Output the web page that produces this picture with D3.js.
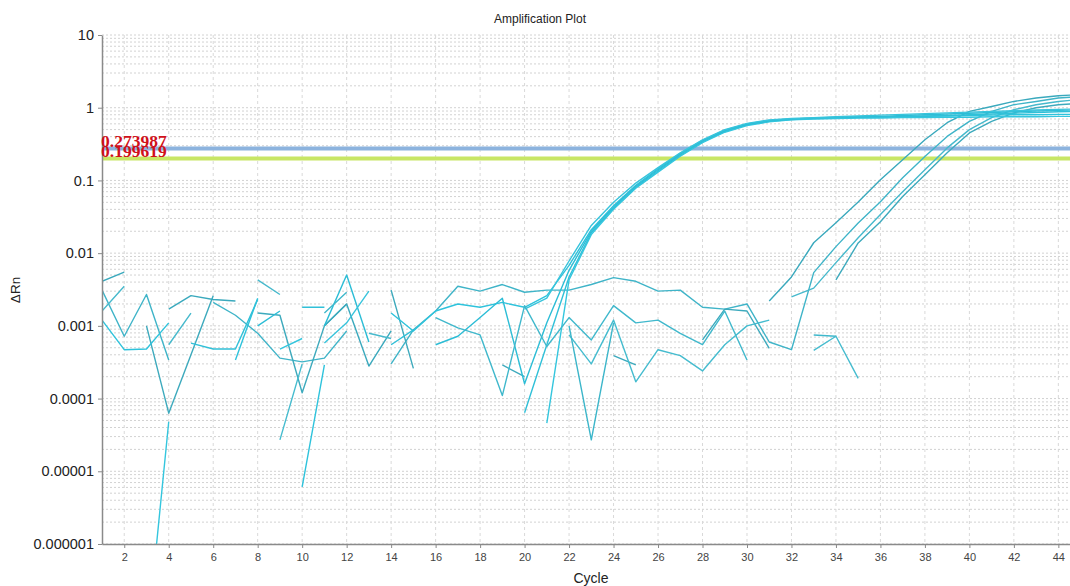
<!DOCTYPE html>
<html><head><meta charset="utf-8">
<script src="https://cdn.jsdelivr.net/npm/d3@7"></script>
<style>body{margin:0;background:#fff;overflow:hidden} svg{display:block}</style>
</head><body><svg id="c" width="1070" height="586"></svg>
<script>
// ---- data ----
const cycles = d3.range(1, 46);
const xTicks = d3.range(2, 46, 2);
const yTicks = [1e-6, 1e-5, 1e-4, 1e-3, 1e-2, 1e-1, 1, 10];
const yTickLabels = ["0.000001", "0.00001", "0.0001", "0.001", "0.01", "0.1", "1", "10"];
const thresholdValues = [0.273987, 0.199619];
const thresholdLabels = ["0.273987", "0.199619"];
const n = null;
// ΔRn per well (null = not plotted / non-positive)
const w01 = [0.0031,0.00072,0.0027,0.00034,n, 0.0021,0.0014,0.00079,0.00036,0.00032, 0.00036,0.00085,n,0.0003,0.00088, 0.0016,0.0035,0.003,0.0037,0.0029, 0.0031,0.0031,0.0037,0.0046,0.0041, 0.003,0.0031,0.0018,0.0017,0.002, 0.0006,0.00047,0.0054,0.0123,0.026, 0.051,0.109,0.214,0.403,0.65, 0.89,1.1,1.22,1.36,1.42];
const w02 = [0.0041,0.0055,n,0.0017,0.0026, 0.0023,0.0022,n,n,n, 0.001,0.002,0.00028,0.00085,n, n,n,n,n,n, n,n,n,0.00039,0.00029, n,n,n,n,n, 0.0022,0.0047,0.0139,0.0262,0.0505, 0.102,0.193,0.363,0.622,0.89, 1.04,1.22,1.36,1.46,1.52];
const w03 = [0.0016,0.0035,n,0.00055,0.0015, n,n,0.0043,0.0027,n, n,n,0.00079,0.00067,n, n,n,n,n,n, n,n,n,n,n, n,n,n,n,n, n,0.0025,0.0033,0.0074,0.0163, 0.034,0.07,0.14,0.28,0.5, 0.73,0.94,1.1,1.22,1.3];
const w04 = [n,n,0.001,0.000063,0.0004, 0.0026,n,0.0015,0.0014,0.00012, 0.001,0.002,n,0.0031,0.00026, n,n,n,0.00029,0.0002, n,n,n,n,n, n,n,0.00064,0.0017,0.0016, 0.00049,n,n,0.0043,0.0138, 0.027,0.06,0.12,0.24,0.45, 0.65,0.85,1.0,1.1,1.15];
const w05 = [0.0012,0.00047,0.00048,0.0011,n, n,0.00034,0.0024,n,0.0000061, 0.00029,n,n,0.0015,0.00085, 0.0016,0.002,0.0018,0.0021,0.0018, 0.0026,0.0068,0.021,0.045,0.086, 0.145,0.235,0.355,0.49,0.6, 0.67,0.7,0.72,0.73,0.74, 0.74,0.75,0.76,0.77,0.78, 0.79,0.8,0.8,0.81,0.81];
const w06 = [n,n,n,n,0.00058, 0.00048,0.00048,0.0023,n,0.0018, 0.0018,n,n,0.00055,0.00088, n,n,n,n,0.000064, 0.00055,0.0047,0.019,0.041,0.08, 0.135,0.22,0.34,0.47,0.58, 0.65,0.69,0.71,0.72,0.73, 0.74,0.75,0.77,0.78,0.8, 0.82,0.84,0.86,0.88,0.89];
const w07 = [n,n,4e-8,0.000048,n, n,n,n,0.00048,0.00067, n,n,n,n,n, n,n,n,n,n, 0.000046,0.0043,0.018,0.04,0.078, 0.13,0.215,0.33,0.46,0.57, 0.64,0.68,0.7,0.71,0.72, 0.72,0.73,0.73,0.74,0.74, 0.75,0.75,0.75,0.76,0.76];
const w08 = [n,n,n,n,n, n,n,0.001,0.0016,n, 0.001,0.005,0.0006,n,n, 0.00055,0.00072,0.0013,0.0024,0.00016, 0.0011,0.0058,0.02,0.043,0.083, 0.14,0.228,0.35,0.48,0.59, 0.66,0.7,0.72,0.74,0.75, 0.76,0.78,0.8,0.82,0.84, 0.86,0.88,0.9,0.92,0.93];
const w09 = [n,n,n,n,n, n,n,n,n,n, 0.00058,0.0011,0.003,n,n, n,n,n,n,0.0017, 0.0024,0.0078,0.024,0.05,0.092, 0.15,0.24,0.36,0.5,0.61, 0.68,0.71,0.73,0.75,0.77, 0.79,0.81,0.83,0.85,0.87, 0.89,0.91,0.93,0.95,0.96];
const w10 = [n,n,n,n,n, n,n,n,n,n, 0.0015,0.0029,n,n,n, 0.0013,0.00094,0.00075,0.00011,0.0019, 0.00052,0.0013,0.00064,0.0019,0.0011, 0.0012,0.00079,0.00055,0.0016,0.00034, n,n,0.00075,0.00072,n, n,n,n,n,n, n,n,n,n,n];
const w11 = [n,n,n,n,n, n,n,n,0.000027,0.0003, n,n,n,n,n, n,n,n,n,n, n,0.00075,0.0003,0.0012,0.00017, 0.00047,0.00039,0.00024,0.00055,0.001, 0.0012,n,0.00046,0.00072,0.00019, n,n,n,n,n, n,n,n,n,n];
const w12 = [n,n,n,n,n, n,n,n,n,n, n,n,n,n,n, n,n,n,n,n, n,0.001,0.000027,0.0011,n, n,n,n,n,n, n,n,n,n,n, n,n,n,n,n, n,n,n,n,n];

const wells = [w01, w02, w03, w04, w05, w06, w07, w08, w09, w10, w11, w12];
const wellColors = ["#3fb4c8","#3aa9bd","#46b9cc","#3daabd","#2ec3dc","#30c0d8","#34c6de","#2cbdd6","#38c4dc","#3fb8cc","#45bccf","#3cb6ca"];

(function draw() {
  const svg = d3.select("#c");
  const pL = 102, pR = 1080.6, pT = 35, pB = 544;
  const x = d3.scaleLinear().domain([1, 45]).range([pL, pR]);
  const y = d3.scaleLog().domain([1e-6, 10]).range([pB, pT]);
  const font = "'Liberation Sans', Arial, sans-serif";

  // grid
  const gridG = svg.append("g");
  const minorVals = [];
  for (let e = -6; e <= 0; e++) for (let m = 1; m <= 9; m++) minorVals.push(m * Math.pow(10, e));
  minorVals.push(10);
  gridG.selectAll("line.h").data(minorVals).join("line")
    .attr("x1", pL).attr("x2", 1070)
    .attr("y1", d => y(d)).attr("y2", d => y(d))
    .attr("stroke", "#d2d2d2").attr("stroke-width", 1).attr("stroke-dasharray", "2,2");
  gridG.selectAll("line.v").data(xTicks).join("line")
    .attr("x1", d => x(d)).attr("x2", d => x(d))
    .attr("y1", pT).attr("y2", pB)
    .attr("stroke", "#d9d9d9").attr("stroke-width", 1).attr("stroke-dasharray", "3,3");

  // clip
  svg.append("clipPath").attr("id", "clip").append("rect")
    .attr("x", pL).attr("y", pT).attr("width", pR - pL).attr("height", pB - pT);

  // thresholds
  const thrColors = ["#8cb3de", "#c8e665"];
  svg.append("g").selectAll("line").data(thresholdValues).join("line")
    .attr("x1", pL).attr("x2", 1070)
    .attr("y1", d => y(d)).attr("y2", d => y(d))
    .attr("stroke", (d, i) => thrColors[i]).attr("stroke-width", 4);

  // curves
  const line = d3.line()
    .defined(d => d != null)
    .x((d, i) => x(cycles[i]))
    .y(d => y(d));
  svg.append("g").attr("clip-path", "url(#clip)")
    .selectAll("path").data(wells).join("path")
    .attr("d", line)
    .attr("fill", "none")
    .attr("stroke", (d, i) => wellColors[i])
    .attr("stroke-width", 1.4)
    .attr("stroke-linejoin", "round");

  // axes
  const yAxis = d3.axisLeft(y).tickValues(yTicks).tickFormat((d, i) => yTickLabels[i]).tickSize(4).tickSizeOuter(0);
  const yg = svg.append("g").attr("transform", `translate(${pL},0)`).call(yAxis);
  yg.select(".domain").attr("stroke", "#8a8a8a").attr("stroke-width", 1.5);
  yg.selectAll(".tick line").attr("stroke", "#8a8a8a");
  yg.selectAll(".tick text").attr("font-family", font).attr("font-size", 14.5).attr("fill", "#222").attr("x", -8);

  const xAxis = d3.axisBottom(x).tickValues(xTicks).tickSize(4).tickSizeOuter(0);
  const xg = svg.append("g").attr("transform", `translate(0,${pB})`).call(xAxis);
  xg.select(".domain").attr("stroke", "#8a8a8a").attr("stroke-width", 1.5);
  xg.selectAll(".tick line").attr("stroke", "#8a8a8a");
  xg.selectAll(".tick text").attr("font-family", font).attr("font-size", 11).attr("fill", "#444").attr("y", 9);

  // threshold labels (overlapping, as in the source software)
  svg.append("g").selectAll("text").data(thresholdLabels).join("text")
    .attr("x", pL - 1)
    .attr("y", (d, i) => [147, 157][i])
    .attr("font-family", "'Liberation Serif', 'Times New Roman', serif")
    .attr("font-weight", "bold").attr("font-size", 17.5)
    .attr("fill", "#d0101a")
    .text(d => d);

  // titles
  svg.append("text").attr("x", 540).attr("y", 23).attr("text-anchor", "middle")
    .attr("font-family", font).attr("font-size", 12).attr("fill", "#222").text("Amplification Plot");
  svg.append("text").attr("x", 591).attr("y", 583).attr("text-anchor", "middle")
    .attr("font-family", font).attr("font-size", 14).attr("fill", "#222").text("Cycle");
  svg.append("text").attr("transform", "translate(20,290) rotate(-90)").attr("text-anchor", "middle")
    .attr("font-family", font).attr("font-size", 13.5).attr("fill", "#222").text("ΔRn");
})();
</script></body></html>
